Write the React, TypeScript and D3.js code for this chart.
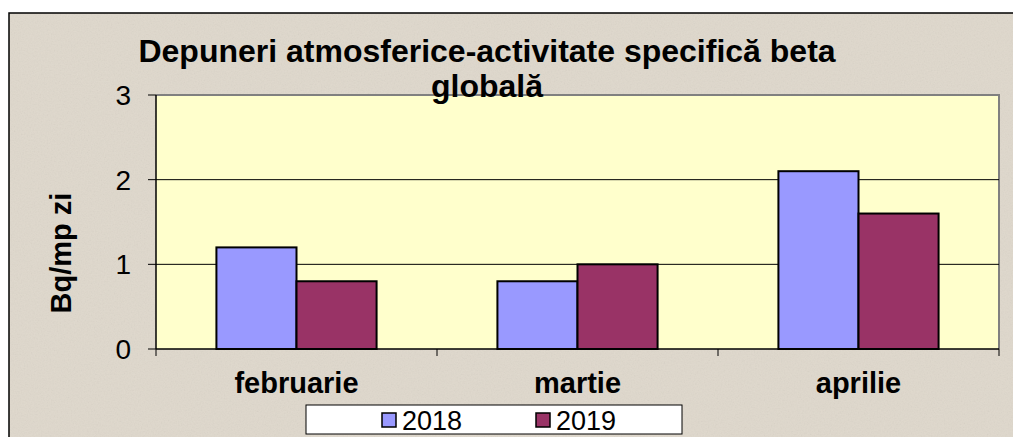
import React from "react";
import * as d3 from "d3";

const categories = ["februarie", "martie", "aprilie"];
const seriesNames = ["2018", "2019"];
const values2018 = [1.2, 0.8, 2.1];
const values2019 = [0.8, 1.0, 1.6];
const yTicks = [0, 1, 2, 3];
const titleLines = ["Depuneri atmosferice-activitate specifică beta", "globală"];
const yLabel = "Bq/mp zi";
const colors = ["#9999FF", "#993366"];

const W = 1013;
const H = 437;
const plot = { left: 156, right: 999, top: 95, bottom: 349 };
const FONT = "'Liberation Sans', Arial, sans-serif";

export default function App() {
  const x = d3
    .scaleBand<string>()
    .domain(categories)
    .range([plot.left, plot.right])
    .paddingInner(0.43)
    .paddingOuter(0.215);
  const step = x.step();
  const xs = d3.scaleBand<string>().domain(seriesNames).range([0, x.bandwidth()]);
  const y = d3.scaleLinear().domain([0, 3]).range([plot.bottom, plot.top]);
  const series = [values2018, values2019];
  const boundaries = d3.range(categories.length + 1).map((i) => plot.left + i * step);

  return (
    <svg
      width={W}
      height={H}
      style={{ position: "absolute", left: 0, top: 0 }}
      fontFamily={FONT}
    >
      <defs>
        <filter id="noise" x="0" y="0" width="100%" height="100%">
          <feTurbulence type="fractalNoise" baseFrequency="0.7" numOctaves="2" seed="4" />
          <feColorMatrix type="saturate" values="0" />
        </filter>
      </defs>
      <rect x={0} y={0} width={W} height={H} fill="#ffffff" />
      <rect x={9} y={13} width={W + 20} height={H + 20} fill="#DFD8CC" />
      <rect x={9} y={13} width={W + 20} height={H + 20} filter="url(#noise)" opacity={0.12} />
      <rect x={9} y={13} width={W + 20} height={H + 20} fill="none" stroke="#000" strokeWidth={1.5} />

      {/* plot area */}
      <rect
        x={plot.left}
        y={plot.top}
        width={plot.right - plot.left}
        height={plot.bottom - plot.top}
        fill="#FFFFCC"
      />
      <path
        d={`M${plot.left},${plot.top}H${plot.right}V${plot.bottom}`}
        fill="none"
        stroke="#808080"
        strokeWidth={2}
      />
      {yTicks
        .filter((t) => t > 0 && t < 3)
        .map((t) => (
          <line key={t} x1={plot.left} x2={plot.right} y1={y(t)} y2={y(t)} stroke="#000" strokeWidth={1} />
        ))}

      {/* bars */}
      {series.map((vals, si) =>
        categories.map((c, ci) => (
          <rect
            key={`${si}-${ci}`}
            x={(x(c) as number) + (xs(seriesNames[si]) as number)}
            y={y(vals[ci])}
            width={xs.bandwidth()}
            height={y(0) - y(vals[ci])}
            fill={colors[si]}
            stroke="#000"
            strokeWidth={2}
          />
        ))
      )}

      {/* axes */}
      <line x1={plot.left} x2={plot.left} y1={plot.top} y2={plot.bottom} stroke="#000" strokeWidth={1.5} />
      <line x1={plot.left} x2={plot.right} y1={plot.bottom} y2={plot.bottom} stroke="#000" strokeWidth={1.5} />
      {yTicks.map((t) => (
        <g key={t}>
          <line x1={plot.left - 8} x2={plot.left} y1={y(t)} y2={y(t)} stroke="#000" strokeWidth={1} />
          <text x={131} y={y(t)} dy="0.36em" textAnchor="end" fontSize={28} fill="#000">
            {t}
          </text>
        </g>
      ))}
      {boundaries.map((b, i) => (
        <line key={i} x1={b} x2={b} y1={plot.bottom} y2={plot.bottom + 7} stroke="#000" strokeWidth={1} />
      ))}
      {categories.map((c) => (
        <text
          key={c}
          x={(x(c) as number) + x.bandwidth() / 2}
          y={393}
          textAnchor="middle"
          fontSize={29}
          fontWeight="bold"
          fill="#000"
        >
          {c}
        </text>
      ))}

      {/* y label */}
      <text
        transform="translate(70.5,253) rotate(-90)"
        textAnchor="middle"
        fontSize={29}
        fontWeight="bold"
        fill="#000"
      >
        {yLabel}
      </text>

      {/* title */}
      {titleLines.map((l, i) => (
        <text key={i} x={487} y={62 + i * 35} textAnchor="middle" fontSize={32} fontWeight="bold" fill="#000">
          {l}
        </text>
      ))}

      {/* legend */}
      <rect x={306} y={405} width={376} height={29} fill="#fff" stroke="#000" strokeWidth={1} />
      {seriesNames.map((s, i) => (
        <g key={s} transform={`translate(${382 + i * 154},0)`}>
          <rect x={0} y={413} width={14} height={14} fill={colors[i]} stroke="#000" strokeWidth={1.5} />
          <text x={20} y={430} fontSize={27} fill="#000">
            {s}
          </text>
        </g>
      ))}
    </svg>
  );
}
